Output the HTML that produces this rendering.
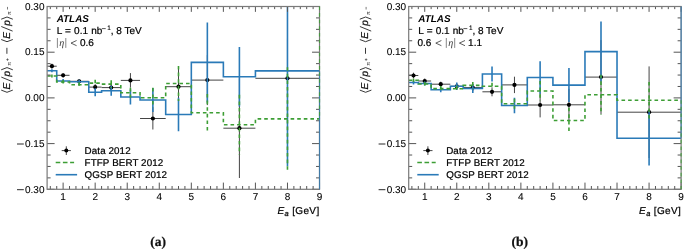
<!DOCTYPE html>
<html><head><meta charset="utf-8"><style>
html,body{margin:0;padding:0;background:#fff;}
svg{display:block;will-change:transform;}
text{font-family:"Liberation Sans",sans-serif;fill:#000;stroke:#000;stroke-width:0.22px;text-rendering:geometricPrecision;}
.ax{font-size:10px;}
.leg{font-size:9.8px;letter-spacing:0.1px;}
.tl text{stroke-width:0.08px;}
.sup{font-size:6.4px;stroke-width:0.12px;}
.eta{font-family:"Liberation Serif",serif;font-style:italic;font-size:10px;fill:#333;stroke:none;}
.yt{font-size:10px;fill:#1a1a1a;}
.ys{font-size:5.6px;fill:#333;stroke:none;}
.atlas{font-size:9.9px;font-weight:bold;font-style:italic;fill:#000;stroke:none;}
.sub{font-family:"Liberation Serif",serif;font-weight:bold;font-size:13.5px;fill:#111;}
</style></head><body>
<svg width="685" height="249" viewBox="0 0 685 249">
<rect width="685" height="249" fill="#fff"/>
<clipPath id="c47"><rect x="47.1" y="6.5" width="272.42" height="182.8"/></clipPath>
<g clip-path="url(#c47)">
<path d="M47.1 66.2H56.72M51.91 63.7V68.7" stroke="#444" stroke-width="1" fill="none"/>
<circle cx="51.91" cy="66.2" r="2.1" fill="#000"/>
<path d="M56.72 75.3H69.53M63.12 73.3V77.3" stroke="#444" stroke-width="1" fill="none"/>
<circle cx="63.12" cy="75.3" r="2.1" fill="#000"/>
<path d="M69.53 81.3H88.77M79.15 79.3V83.3" stroke="#444" stroke-width="1" fill="none"/>
<circle cx="79.15" cy="81.3" r="2.1" fill="#000"/>
<path d="M88.77 87.1H101.59M95.18 84.1V90.1" stroke="#444" stroke-width="1" fill="none"/>
<circle cx="95.18" cy="87.1" r="2.1" fill="#000"/>
<path d="M101.59 87.6H120.81M111.2 84.6V90.6" stroke="#444" stroke-width="1" fill="none"/>
<circle cx="111.2" cy="87.6" r="2.1" fill="#000"/>
<path d="M120.81 80.4H140.04M130.43 73.1V87.7" stroke="#444" stroke-width="1" fill="none"/>
<circle cx="130.43" cy="80.4" r="2.1" fill="#000"/>
<path d="M140.04 118.5H165.69M152.87 107.5V129.5" stroke="#444" stroke-width="1" fill="none"/>
<circle cx="152.87" cy="118.5" r="2.1" fill="#000"/>
<path d="M165.69 86.7H191.32M178.5 66.7V106.7" stroke="#444" stroke-width="1" fill="none"/>
<circle cx="178.5" cy="86.7" r="2.1" fill="#000"/>
<path d="M191.32 80.1H223.37M207.35 55.1V105.1" stroke="#444" stroke-width="1" fill="none"/>
<circle cx="207.35" cy="80.1" r="2.1" fill="#000"/>
<path d="M223.37 128.2H255.42M239.4 78.4V178" stroke="#444" stroke-width="1" fill="none"/>
<circle cx="239.4" cy="128.2" r="2.1" fill="#000"/>
<path d="M255.42 78.3H319.52M287.47 38.3V118.3" stroke="#444" stroke-width="1" fill="none"/>
<circle cx="287.47" cy="78.3" r="2.1" fill="#000"/>
<path d="M47.1 70.8V70.8H56.72V81H69.53V81.8H88.77V92.3H101.59V90.7H120.81V97H140.04V100H165.69V114.5H191.32V62.4H223.37V76.7H255.42V70.9H319.52" stroke="#2a7ab8" stroke-width="1.6" fill="none"/>
<path d="M51.91 69.3V72.3M63.12 79V83M79.15 79.8V83.8M95.18 88.3V96.3M111.2 85.7V95.7M130.43 89.5V104.5M152.87 88V112M178.5 97.8V131.2M207.35 22.4V102.4M239.4 46.9V106.5M287.47 -24.4V166.2" stroke="#2a7ab8" stroke-width="1.6" fill="none"/>
<path d="M47.1 76V76H56.72V82H69.53V84.7H88.77V83.1H101.59V84.1H120.81V92.8H140.04V97.8H165.69V83.5H191.32V112.8H223.37V124.8H255.42V118.9H319.52" stroke="#3d9e35" stroke-width="1.6" fill="none" stroke-dasharray="3.6 3"/>
<path d="M51.91 74.5V77.5M63.12 80V84M79.15 82.2V87.2M95.18 79.7V86.5M111.2 80.3V87.9M130.43 87.8V97.8M152.87 87.8V107.8M178.5 66V101M207.35 94V131.6M239.4 94.8V154.8M287.47 67.2V170.6" stroke="#3d9e35" stroke-width="1.6" fill="none" stroke-dasharray="3.6 3"/>
</g>
<path d="M50.3 189.3V186M50.3 6.5V9.14M56.72 189.3V186M56.72 6.5V9.14M63.12 189.3V182.6M63.12 6.5V11.86M69.53 189.3V186M69.53 6.5V9.14M75.94 189.3V186M75.94 6.5V9.14M82.36 189.3V186M82.36 6.5V9.14M88.77 189.3V186M88.77 6.5V9.14M95.17 189.3V182.6M95.17 6.5V11.86M101.59 189.3V186M101.59 6.5V9.14M107.99 189.3V186M107.99 6.5V9.14M114.41 189.3V186M114.41 6.5V9.14M120.81 189.3V186M120.81 6.5V9.14M127.22 189.3V182.6M127.22 6.5V11.86M133.63 189.3V186M133.63 6.5V9.14M140.04 189.3V186M140.04 6.5V9.14M146.45 189.3V186M146.45 6.5V9.14M152.86 189.3V186M152.86 6.5V9.14M159.27 189.3V182.6M159.27 6.5V11.86M165.69 189.3V186M165.69 6.5V9.14M172.09 189.3V186M172.09 6.5V9.14M178.5 189.3V186M178.5 6.5V9.14M184.91 189.3V186M184.91 6.5V9.14M191.32 189.3V182.6M191.32 6.5V11.86M197.73 189.3V186M197.73 6.5V9.14M204.14 189.3V186M204.14 6.5V9.14M210.55 189.3V186M210.55 6.5V9.14M216.96 189.3V186M216.96 6.5V9.14M223.37 189.3V182.6M223.37 6.5V11.86M229.78 189.3V186M229.78 6.5V9.14M236.19 189.3V186M236.19 6.5V9.14M242.6 189.3V186M242.6 6.5V9.14M249.01 189.3V186M249.01 6.5V9.14M255.42 189.3V182.6M255.42 6.5V11.86M261.83 189.3V186M261.83 6.5V9.14M268.25 189.3V186M268.25 6.5V9.14M274.65 189.3V186M274.65 6.5V9.14M281.06 189.3V186M281.06 6.5V9.14M287.47 189.3V182.6M287.47 6.5V11.86M293.88 189.3V186M293.88 6.5V9.14M300.3 189.3V186M300.3 6.5V9.14M306.7 189.3V186M306.7 6.5V9.14M313.12 189.3V186M313.12 6.5V9.14M319.52 189.3V182.6M319.52 6.5V11.86M47.1 189.3H54.6M319.52 189.3H312.02M47.1 177.88H50.6M319.52 177.88H316.02M47.1 166.45H50.6M319.52 166.45H316.02M47.1 155.03H50.6M319.52 155.03H316.02M47.1 143.6H54.6M319.52 143.6H312.02M47.1 132.18H50.6M319.52 132.18H316.02M47.1 120.75H50.6M319.52 120.75H316.02M47.1 109.33H50.6M319.52 109.33H316.02M47.1 97.9H54.6M319.52 97.9H312.02M47.1 86.48H50.6M319.52 86.48H316.02M47.1 75.05H50.6M319.52 75.05H316.02M47.1 63.63H50.6M319.52 63.63H316.02M47.1 52.2H54.6M319.52 52.2H312.02M47.1 40.77H50.6M319.52 40.77H316.02M47.1 29.35H50.6M319.52 29.35H316.02M47.1 17.92H50.6M319.52 17.92H316.02M47.1 6.5H54.6M319.52 6.5H312.02" stroke="#555" stroke-width="1" fill="none"/>
<rect x="47.1" y="6.5" width="272.42" height="182.8" stroke="#7a7a7a" stroke-width="1.2" fill="none"/>
<path d="M319.52 70.9V189.3" stroke="#2a7ab8" stroke-width="1.2" opacity="0.7"/>
<path d="M319.52 6.5V118.9" stroke="#3d9e35" stroke-width="1.2" stroke-dasharray="3.6 3" opacity="0.8"/>
<g class="ax tl"><text x="63.12" y="200" text-anchor="middle">1</text><text x="95.17" y="200" text-anchor="middle">2</text><text x="127.22" y="200" text-anchor="middle">3</text><text x="159.27" y="200" text-anchor="middle">4</text><text x="191.32" y="200" text-anchor="middle">5</text><text x="223.37" y="200" text-anchor="middle">6</text><text x="255.42" y="200" text-anchor="middle">7</text><text x="287.47" y="200" text-anchor="middle">8</text><text x="319.52" y="200" text-anchor="middle">9</text><text x="44.5" y="9.7" text-anchor="end">0.30</text><text x="44.5" y="55.4" text-anchor="end">0.15</text><text x="44.5" y="101.1" text-anchor="end">0.00</text><text x="44.5" y="146.8" text-anchor="end">0.15</text><path d="M17 144H23.8" stroke="#111" stroke-width="0.9"/><text x="44.5" y="192.5" text-anchor="end">0.30</text><path d="M17 189.7H23.8" stroke="#111" stroke-width="0.9"/></g>
<text class="ax" x="319.52" y="213.8" text-anchor="end" letter-spacing="0.35"><tspan font-style="italic">E</tspan><tspan font-style="italic" font-size="7.5" dy="1.8">a</tspan><tspan dy="-1.8"> [GeV]</tspan></text>
<g transform="translate(9.6,94) rotate(-90)"><path d="M3.9 -8.4L1.7 -2.6L3.9 3.2" stroke="#222" stroke-width="0.9" fill="none"/><text x="4.6" y="0" class="yt" font-style="italic">E</text><path d="M12.3 3L16.9 -8.3" stroke="#222" stroke-width="0.9"/><text x="17.6" y="0" class="yt" font-style="italic">p</text><path d="M24.2 -8.4L26.4 -2.6L24.2 3.2" stroke="#222" stroke-width="0.9" fill="none"/><text x="28.3" y="1.7" class="ys">&#960;</text><path d="M33.2 -2.1H35.6M34.4 -3.3V-0.9" stroke="#444" stroke-width="0.7"/><path d="M40.2 -2.7H46.2" stroke="#222" stroke-width="0.9"/><path d="M54.5 -8.4L52.3 -2.6L54.5 3.2" stroke="#222" stroke-width="0.9" fill="none"/><text x="55.2" y="0" class="yt" font-style="italic">E</text><path d="M62.9 3L67.5 -8.3" stroke="#222" stroke-width="0.9"/><text x="68.2" y="0" class="yt" font-style="italic">p</text><path d="M74.8 -8.4L77 -2.6L74.8 3.2" stroke="#222" stroke-width="0.9" fill="none"/><text x="78.9" y="1.7" class="ys">&#960;</text><path d="M84.5 -2.1H87.1" stroke="#444" stroke-width="0.7"/></g>
<text x="56.7" y="22.2" class="atlas">ATLAS</text>
<text x="56.7" y="34.2" class="ax" word-spacing="0.4">L = 0.1 nb</text><path d="M101.8 28.6H105.7" stroke="#222" stroke-width="0.75"/><text x="107.3" y="29.6" class="sup">1</text><text x="110.8" y="34.2" class="ax">, 8 TeV</text>
<path d="M57.4 38V47.9M65.8 38V47.9" stroke="#888" stroke-width="1" fill="none"/><text x="59.3" y="45.6" class="eta">&#951;</text><path d="M76.6 40.5L71 43.1L76.6 45.7" stroke="#333" stroke-width="0.8" fill="none"/><text x="79.9" y="45.8" class="ax">0.6</text>
<path d="M61.7 150.6H70.9M66.3 146.3V155" stroke="#333" stroke-width="0.9"/>
<circle cx="66.3" cy="150.6" r="2" fill="#000"/>
<path d="M55.7 162.5H74.1" stroke="#3d9e35" stroke-width="1.6" stroke-dasharray="4.6 2.6"/>
<path d="M55.7 174.7H77.1" stroke="#2a7ab8" stroke-width="1.6"/>
<text x="84.6" y="154.3" class="leg">Data 2012</text>
<text x="84.6" y="166.3" class="leg">FTFP BERT 2012</text>
<text x="84.6" y="178.4" class="leg">QGSP BERT 2012</text>
<text x="150.2" y="245.7" class="sub">(a)</text>
<clipPath id="c408"><rect x="408.7" y="6.5" width="272.43" height="182.8"/></clipPath>
<g clip-path="url(#c408)">
<path d="M408.7 75.5H418.31M413.51 72.7V78.3" stroke="#444" stroke-width="1" fill="none"/>
<circle cx="413.51" cy="75.5" r="2.1" fill="#000"/>
<path d="M418.31 81H431.13M424.73 78.5V83.5" stroke="#444" stroke-width="1" fill="none"/>
<circle cx="424.73" cy="81" r="2.1" fill="#000"/>
<path d="M431.13 84.2H450.37M440.75 81.7V86.7" stroke="#444" stroke-width="1" fill="none"/>
<circle cx="440.75" cy="84.2" r="2.1" fill="#000"/>
<path d="M450.37 86.3H463.19M456.77 83.3V89.3" stroke="#444" stroke-width="1" fill="none"/>
<circle cx="456.77" cy="86.3" r="2.1" fill="#000"/>
<path d="M463.19 87.6H482.41M472.8 84.1V91.1" stroke="#444" stroke-width="1" fill="none"/>
<circle cx="472.8" cy="87.6" r="2.1" fill="#000"/>
<path d="M482.41 91.8H501.64M492.03 87.3V96.3" stroke="#444" stroke-width="1" fill="none"/>
<circle cx="492.03" cy="91.8" r="2.1" fill="#000"/>
<path d="M501.64 84.9H527.28M514.46 76.7V93.1" stroke="#444" stroke-width="1" fill="none"/>
<circle cx="514.46" cy="84.9" r="2.1" fill="#000"/>
<path d="M527.28 105H552.92M540.11 92.6V117.4" stroke="#444" stroke-width="1" fill="none"/>
<circle cx="540.11" cy="105" r="2.1" fill="#000"/>
<path d="M552.92 104.8H584.97M568.95 88.8V120.8" stroke="#444" stroke-width="1" fill="none"/>
<circle cx="568.95" cy="104.8" r="2.1" fill="#000"/>
<path d="M584.97 77.1H617.02M601 40.1V114.1" stroke="#444" stroke-width="1" fill="none"/>
<circle cx="601" cy="77.1" r="2.1" fill="#000"/>
<path d="M617.02 112.2H681.12M649.08 66.4V158" stroke="#444" stroke-width="1" fill="none"/>
<circle cx="649.08" cy="112.2" r="2.1" fill="#000"/>
<path d="M408.7 82.5V82.5H418.31V83.5H431.13V89.8H450.37V86.3H463.19V88.5H482.41V74H501.64V105.5H527.28V77.5H552.92V85.1H584.97V51.6H617.02V138.2H681.12" stroke="#2a7ab8" stroke-width="1.6" fill="none"/>
<path d="M413.51 80.5V84.5M424.73 81.5V85.5M440.75 87.3V92.3M456.77 82.5V90.1M472.8 84V93M492.03 66.5V81.5M514.46 97.8V113.2M540.11 61.2V93.8M568.95 68.1V102.1M601 21.6V81.6M649.08 110.8V165.6" stroke="#2a7ab8" stroke-width="1.6" fill="none"/>
<path d="M408.7 80.2V80.2H418.31V84H431.13V88.6H450.37V88.8H463.19V85.4H482.41V86.3H501.64V103.8H527.28V91H552.92V120.5H584.97V94.7H617.02V100.2H681.12" stroke="#3d9e35" stroke-width="1.6" fill="none" stroke-dasharray="3.6 3"/>
<path d="M413.51 78.4V82M424.73 82V86M440.75 86.1V91.1M456.77 85.8V91.8M472.8 81.9V88.9M492.03 82.8V89.8M514.46 98.8V108.8M540.11 81V101M568.95 107.7V133.3M601 74.7V114.7M649.08 82V118.4" stroke="#3d9e35" stroke-width="1.6" fill="none" stroke-dasharray="3.6 3"/>
</g>
<path d="M411.9 189.3V186M411.9 6.5V9.14M418.31 189.3V186M418.31 6.5V9.14M424.72 189.3V182.6M424.72 6.5V11.86M431.13 189.3V186M431.13 6.5V9.14M437.54 189.3V186M437.54 6.5V9.14M443.95 189.3V186M443.95 6.5V9.14M450.37 189.3V186M450.37 6.5V9.14M456.77 189.3V182.6M456.77 6.5V11.86M463.19 189.3V186M463.19 6.5V9.14M469.59 189.3V186M469.59 6.5V9.14M476 189.3V186M476 6.5V9.14M482.41 189.3V186M482.41 6.5V9.14M488.82 189.3V182.6M488.82 6.5V11.86M495.24 189.3V186M495.24 6.5V9.14M501.64 189.3V186M501.64 6.5V9.14M508.05 189.3V186M508.05 6.5V9.14M514.46 189.3V186M514.46 6.5V9.14M520.88 189.3V182.6M520.88 6.5V11.86M527.28 189.3V186M527.28 6.5V9.14M533.69 189.3V186M533.69 6.5V9.14M540.11 189.3V186M540.11 6.5V9.14M546.51 189.3V186M546.51 6.5V9.14M552.92 189.3V182.6M552.92 6.5V11.86M559.34 189.3V186M559.34 6.5V9.14M565.75 189.3V186M565.75 6.5V9.14M572.15 189.3V186M572.15 6.5V9.14M578.56 189.3V186M578.56 6.5V9.14M584.97 189.3V182.6M584.97 6.5V11.86M591.38 189.3V186M591.38 6.5V9.14M597.79 189.3V186M597.79 6.5V9.14M604.2 189.3V186M604.2 6.5V9.14M610.62 189.3V186M610.62 6.5V9.14M617.02 189.3V182.6M617.02 6.5V11.86M623.43 189.3V186M623.43 6.5V9.14M629.85 189.3V186M629.85 6.5V9.14M636.25 189.3V186M636.25 6.5V9.14M642.66 189.3V186M642.66 6.5V9.14M649.07 189.3V182.6M649.07 6.5V11.86M655.48 189.3V186M655.48 6.5V9.14M661.89 189.3V186M661.89 6.5V9.14M668.3 189.3V186M668.3 6.5V9.14M674.71 189.3V186M674.71 6.5V9.14M681.12 189.3V182.6M681.12 6.5V11.86M408.7 189.3H416.2M681.12 189.3H673.62M408.7 177.88H412.2M681.12 177.88H677.62M408.7 166.45H412.2M681.12 166.45H677.62M408.7 155.03H412.2M681.12 155.03H677.62M408.7 143.6H416.2M681.12 143.6H673.62M408.7 132.18H412.2M681.12 132.18H677.62M408.7 120.75H412.2M681.12 120.75H677.62M408.7 109.33H412.2M681.12 109.33H677.62M408.7 97.9H416.2M681.12 97.9H673.62M408.7 86.48H412.2M681.12 86.48H677.62M408.7 75.05H412.2M681.12 75.05H677.62M408.7 63.63H412.2M681.12 63.63H677.62M408.7 52.2H416.2M681.12 52.2H673.62M408.7 40.77H412.2M681.12 40.77H677.62M408.7 29.35H412.2M681.12 29.35H677.62M408.7 17.92H412.2M681.12 17.92H677.62M408.7 6.5H416.2M681.12 6.5H673.62" stroke="#555" stroke-width="1" fill="none"/>
<rect x="408.7" y="6.5" width="272.43" height="182.8" stroke="#7a7a7a" stroke-width="1.2" fill="none"/>
<path d="M681.12 6.5V138.2" stroke="#2a7ab8" stroke-width="1.2" opacity="0.7"/>
<path d="M681.12 100.2V189.3" stroke="#3d9e35" stroke-width="1.2" stroke-dasharray="3.6 3" opacity="0.8"/>
<g class="ax tl"><text x="424.72" y="200" text-anchor="middle">1</text><text x="456.77" y="200" text-anchor="middle">2</text><text x="488.82" y="200" text-anchor="middle">3</text><text x="520.88" y="200" text-anchor="middle">4</text><text x="552.92" y="200" text-anchor="middle">5</text><text x="584.97" y="200" text-anchor="middle">6</text><text x="617.02" y="200" text-anchor="middle">7</text><text x="649.07" y="200" text-anchor="middle">8</text><text x="681.12" y="200" text-anchor="middle">9</text><text x="406.1" y="9.7" text-anchor="end">0.30</text><text x="406.1" y="55.4" text-anchor="end">0.15</text><text x="406.1" y="101.1" text-anchor="end">0.00</text><text x="406.1" y="146.8" text-anchor="end">0.15</text><path d="M378.6 144H385.4" stroke="#111" stroke-width="0.9"/><text x="406.1" y="192.5" text-anchor="end">0.30</text><path d="M378.6 189.7H385.4" stroke="#111" stroke-width="0.9"/></g>
<text class="ax" x="681.12" y="213.8" text-anchor="end" letter-spacing="0.35"><tspan font-style="italic">E</tspan><tspan font-style="italic" font-size="7.5" dy="1.8">a</tspan><tspan dy="-1.8"> [GeV]</tspan></text>
<g transform="translate(368.2,94) rotate(-90)"><path d="M3.9 -8.4L1.7 -2.6L3.9 3.2" stroke="#222" stroke-width="0.9" fill="none"/><text x="4.6" y="0" class="yt" font-style="italic">E</text><path d="M12.3 3L16.9 -8.3" stroke="#222" stroke-width="0.9"/><text x="17.6" y="0" class="yt" font-style="italic">p</text><path d="M24.2 -8.4L26.4 -2.6L24.2 3.2" stroke="#222" stroke-width="0.9" fill="none"/><text x="28.3" y="1.7" class="ys">&#960;</text><path d="M33.2 -2.1H35.6M34.4 -3.3V-0.9" stroke="#444" stroke-width="0.7"/><path d="M40.2 -2.7H46.2" stroke="#222" stroke-width="0.9"/><path d="M54.5 -8.4L52.3 -2.6L54.5 3.2" stroke="#222" stroke-width="0.9" fill="none"/><text x="55.2" y="0" class="yt" font-style="italic">E</text><path d="M62.9 3L67.5 -8.3" stroke="#222" stroke-width="0.9"/><text x="68.2" y="0" class="yt" font-style="italic">p</text><path d="M74.8 -8.4L77 -2.6L74.8 3.2" stroke="#222" stroke-width="0.9" fill="none"/><text x="78.9" y="1.7" class="ys">&#960;</text><path d="M84.5 -2.1H87.1" stroke="#444" stroke-width="0.7"/></g>
<text x="418.3" y="22.2" class="atlas">ATLAS</text>
<text x="418.3" y="34.2" class="ax" word-spacing="0.4">L = 0.1 nb</text><path d="M463.4 28.6H467.3" stroke="#222" stroke-width="0.75"/><text x="468.9" y="29.6" class="sup">1</text><text x="472.4" y="34.2" class="ax">, 8 TeV</text>
<text x="417.5" y="45.8" class="ax">0.6</text><path d="M441.4 40.5L435.8 43.1L441.4 45.7" stroke="#333" stroke-width="0.8" fill="none"/><path d="M446.3 38V47.9M454.7 38V47.9" stroke="#888" stroke-width="1" fill="none"/><text x="448.2" y="45.6" class="eta">&#951;</text><path d="M465 40.5L459.4 43.1L465 45.7" stroke="#333" stroke-width="0.8" fill="none"/><text x="468.1" y="45.8" class="ax">1.1</text>
<path d="M423.3 150.6H432.5M427.9 146.3V155" stroke="#333" stroke-width="0.9"/>
<circle cx="427.9" cy="150.6" r="2" fill="#000"/>
<path d="M417.3 162.5H435.7" stroke="#3d9e35" stroke-width="1.6" stroke-dasharray="4.6 2.6"/>
<path d="M417.3 174.7H438.7" stroke="#2a7ab8" stroke-width="1.6"/>
<text x="446.2" y="154.3" class="leg">Data 2012</text>
<text x="446.2" y="166.3" class="leg">FTFP BERT 2012</text>
<text x="446.2" y="178.4" class="leg">QGSP BERT 2012</text>
<text x="511.5" y="245.7" class="sub">(b)</text>
</svg>
</body></html>
